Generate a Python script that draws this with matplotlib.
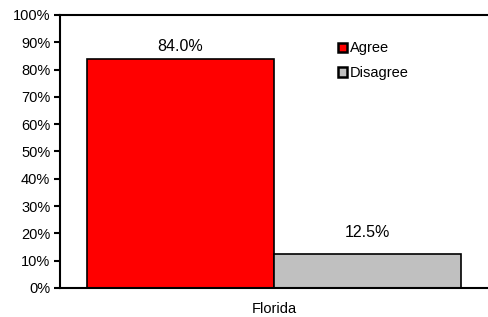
import matplotlib.pyplot as plt
import numpy as np

plt.rcParams['font.family'] = ['Liberation Sans', 'DejaVu Sans']

# Data
category = "Florida"
series = ["Agree", "Disagree"]
values = [84.0, 12.5]
colors = ["#ff0000", "#c0c0c0"]
yticks = np.arange(0, 101, 10)

# label offsets above bar tops (in axis units)
label_pad = [4.3, 8.0]

fig = plt.figure(figsize=(4.88, 3.17), dpi=100)
ax = fig.add_axes([0.123, 0.0915, 0.877, 0.8612])

width = 0.437
offsets = [-width / 2, width / 2]
for name, val, col, off, pad in zip(series, values, colors, offsets, label_pad):
    ax.bar(off, val, width=width, color=col, edgecolor="black", linewidth=1.2, label=name)
    ax.text(off, val + pad, f"{val:.1f}%", ha="center", va="center", fontsize=11.5)

ax.set_xlim(-0.5, 0.5)
ax.set_ylim(0, 100)
ax.set_yticks(yticks)
ax.set_yticklabels([f"{t}%" for t in yticks], fontsize=10.5)
ax.set_xticks([0])
ax.set_xticklabels([category], fontsize=10.5)
ax.tick_params(axis="x", length=0, pad=10)
ax.tick_params(axis="y", length=4, width=1.5, pad=3)

for s in ["left", "bottom", "top"]:
    ax.spines[s].set_linewidth(1.5)
ax.spines["right"].set_visible(False)

leg = ax.legend(loc="upper left", bbox_to_anchor=(0.637, 0.925), frameon=False,
                fontsize=10.5, handlelength=0.6, handleheight=0.6, handletextpad=0.2,
                labelspacing=0.75, borderaxespad=0)
for h in leg.legend_handles:
    h.set_linewidth(1.8)

fig.savefig("out.png", dpi=100)
